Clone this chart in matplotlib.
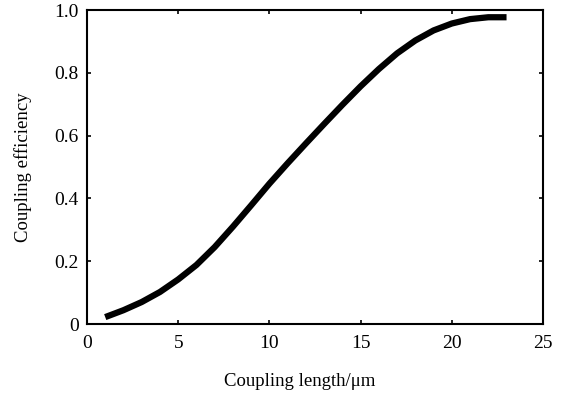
import matplotlib
matplotlib.use("Agg")
import matplotlib.pyplot as plt

coupling_length = [1, 2, 3, 4, 5, 6, 7, 8, 9, 10, 11, 12, 13, 14, 15, 16, 17, 18, 19, 20, 21, 22, 23]
efficiency = [0.022, 0.044, 0.07, 0.102, 0.142, 0.188, 0.245, 0.31, 0.378, 0.447, 0.512, 0.575, 0.637,
              0.698, 0.757, 0.812, 0.862, 0.903, 0.935, 0.957, 0.971, 0.977, 0.977]
xticks = [0, 5, 10, 15, 20, 25]
xticklabels = ["0", "5", "10", "15", "20", "25"]
yticks = [0, 0.2, 0.4, 0.6, 0.8, 1.0]
yticklabels = ["0", "0.2", "0.4", "0.6", "0.8", "1.0"]

plt.rcParams['font.family'] = ['Liberation Serif', 'DejaVu Serif']

fig = plt.figure(figsize=(5.66, 3.96), dpi=100)
ax = fig.add_axes([0.1537, 0.1818, 0.8057, 0.7929])
ax.plot(coupling_length, efficiency, color='black', linewidth=4.5, solid_capstyle='butt',
        solid_joinstyle='round')
ax.set_xlim(0, 25)
ax.set_ylim(0, 1.0)
ax.set_xticks(xticks)
ax.set_xticklabels(xticklabels)
ax.set_yticks(yticks)
ax.set_yticklabels(yticklabels)
ax.tick_params(axis='both', direction='in', length=3, width=1.2, top=True, right=True,
               labelsize=14)
ax.tick_params(axis='x', pad=8)
ax.tick_params(axis='y', pad=6)
for s in ax.spines.values():
    s.set_linewidth(1.5)
ax.set_xlabel("Coupling length/μm", fontsize=13.5, labelpad=15)
ax.xaxis.set_label_coords(0.467, -0.155)
ax.set_ylabel("Coupling efficiency", fontsize=13.5, labelpad=16)
fig.savefig("out.png", dpi=100)
